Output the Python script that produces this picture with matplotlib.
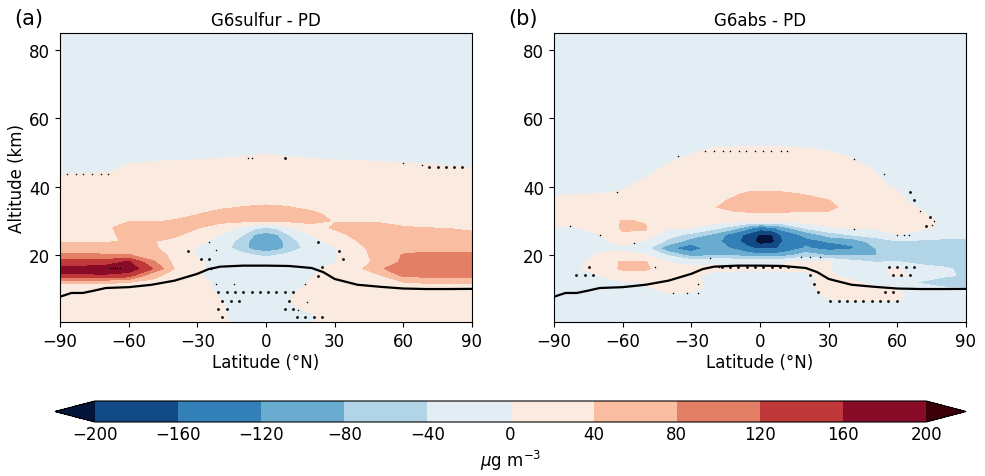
import numpy as np
import matplotlib
matplotlib.use("Agg")
import matplotlib.pyplot as plt
from matplotlib.colors import ListedColormap, BoundaryNorm

levels = [-200, -160, -120, -80, -40, 0, 40, 80, 120, 160, 200]
colors = ['#124a85', '#337fb8', '#6aacd0', '#b1d4e7', '#e3edf4',
          '#faeadf', '#f9bda2', '#e37f65', '#c1383a', '#880c28']
under_color = '#05143a'
over_color = '#3c0008'

lat_a = [-90, -80, -70, -60, -50, -40, -30, -20, -10, -5, 0, 5, 10, 20, 30, 40, 50, 60, 70, 80, 90]
alt_a = [0.4, 3, 6, 9, 12, 14, 16, 18, 20, 22, 24, 26, 28, 30, 32, 34, 36, 40, 45, 50, 60, 85]
diff_a = [
    [25, 25, 25, 25, 25, 25, 25, 10, -15, -15, -15, -15, -15, -5, 15, 25, 25, 25, 25, 25, 25],
    [25, 25, 25, 25, 25, 25, 25, 5, -15, -15, -15, -15, -15, 0, 15, 25, 25, 25, 25, 25, 25],
    [25, 25, 25, 25, 25, 25, 25, 3, -12, -14, -15, -8, 0, 15, 25, 25, 25, 25, 25, 25, 25],
    [25, 25, 25, 25, 25, 25, 15, -5, -15, -15, -15, -10, -5, 15, 25, 25, 25, 25, 25, 25, 25],
    [42, 42, 42, 40, 32, 25, 12, -8, -15, -15, -15, -15, -15, 3, 20, 25, 30, 38, 42, 42, 42],
    [155, 155, 155, 140, 50, 28, 3, -15, -18, -18, -18, -18, -18, -3, 20, 28, 38, 88, 92, 92, 92],
    [170, 175, 180, 185, 125, 40, 8, -15, -20, -20, -20, -20, -20, -8, 15, 30, 75, 105, 110, 110, 110],
    [135, 135, 140, 165, 90, 30, 5, -10, -25, -25, -25, -25, -25, -20, -2, 25, 50, 88, 90, 90, 90],
    [85, 85, 84, 84, 50, 35, -3, -15, -30, -40, -45, -40, -30, -15, -3, 22, 60, 82, 88, 88, 88],
    [58, 58, 56, 55, 45, 28, -3, -22, -60, -100, -112, -100, -62, -22, -2, 28, 60, 68, 70, 70, 70],
    [38, 38, 37, 42, 42, 32, 8, -10, -60, -100, -112, -100, -60, -8, 10, 40, 55, 58, 58, 58, 58],
    [28, 28, 30, 52, 55, 46, 28, 0, -40, -82, -95, -82, -40, 3, 28, 50, 58, 57, 56, 55, 44],
    [25, 25, 32, 58, 55, 50, 42, 22, -8, -30, -45, -30, -8, 25, 45, 50, 52, 42, 40, 38, 36],
    [20, 20, 22, 38, 38, 41, 50, 50, 48, 46, 45, 46, 48, 50, 38, 36, 35, 32, 30, 28, 26],
    [15, 15, 18, 28, 30, 35, 39, 52, 58, 59, 60, 59, 58, 48, 30, 28, 26, 25, 24, 22, 20],
    [15, 15, 16, 22, 24, 26, 30, 35, 41, 43, 45, 43, 41, 32, 25, 24, 23, 22, 21, 20, 19],
    [15, 15, 16, 20, 22, 24, 26, 28, 30, 30, 30, 30, 30, 28, 24, 22, 22, 21, 20, 20, 19],
    [12, 12, 13, 15, 17, 18, 19, 20, 20, 20, 20, 20, 20, 20, 19, 18, 18, 16, 15, 14, 12],
    [-3, -3, -3, 4, 6, 8, 8, 9, 10, 10, 10, 10, 10, 9, 8, 8, 7, 6, 4, 2, 1],
    [-8, -8, -8, -8, -7, -7, -6, -5, -3, -2, -1, -2, -3, -5, -6, -7, -8, -8, -8, -8, -8],
    [-15, -15, -15, -15, -15, -15, -15, -15, -15, -15, -15, -15, -15, -15, -15, -15, -15, -15, -15, -15, -15],
    [-5, -5, -5, -5, -5, -5, -5, -5, -5, -5, -5, -5, -5, -5, -5, -5, -5, -5, -5, -5, -5],
]

lat_b = [-90, -80, -70, -60, -50, -40, -30, -20, -10, -5, 0, 5, 10, 20, 30, 40, 50, 60, 70, 80, 90]
alt_b = [0.4, 4, 6, 8, 10, 12, 14, 16, 18, 20, 22, 24, 26, 28, 30, 32, 34, 36, 38, 40, 45, 50, 55, 85]
diff_b = [
    [-15, -15, -15, -15, -15, -15, -15, -15, -15, -15, -15, -15, -15, -15, -15, -15, -15, -15, -15, -15, -15],
    [-10, -10, -10, -10, -10, -10, -10, -10, -10, -10, -10, -10, -10, -10, -10, -10, -10, -10, -10, -10, -10],
    [-8, -8, -8, -8, -8, -8, -8, -8, -8, -8, -8, -8, -8, -8, -3, -2, -2, -2, -8, -8, -8],
    [-8, -8, -8, -8, -5, -3, -3, -5, -8, -8, -8, -8, -8, -8, 2, 5, 5, 4, -8, -10, -10],
    [-10, -10, -10, -10, -3, 5, 3, -4, -8, -8, -8, -8, -8, -6, 8, 10, 6, 1, -15, -25, -30],
    [-15, -12, -8, -5, 1, 6, 3, -3, -8, -8, -8, -8, -8, -5, 8, 3, -5, -12, -45, -70, -83],
    [-12, -8, 1, 22, 25, 8, 3, -6, -6, -6, -6, -6, -6, -2, 3, -5, -5, 3, -3, -30, -48],
    [-12, -6, 22, 45, 45, 20, 8, 4, 3, 3, 3, 3, 3, 2, 1, -10, -6, 5, -25, -33, -50],
    [-12, -8, 15, 45, 42, -3, -10, -3, -5, -5, -5, -4, -2, 5, 3, -25, -42, -38, -50, -60, -65],
    [-15, -10, 3, 5, 3, -45, -100, -85, -90, -100, -110, -108, -100, -60, -85, -85, -82, -55, -55, -60, -62],
    [-12, -8, -5, -3, -25, -115, -140, -100, -130, -155, -165, -165, -155, -115, -135, -125, -82, -60, -52, -55, -65],
    [-8, -6, -3, 5, -3, -50, -105, -105, -155, -175, -225, -215, -160, -130, -118, -112, -60, -43, -48, -55, -60],
    [-3, -2, 0, 36, 36, -25, -50, -90, -150, -170, -205, -205, -150, -110, -60, -35, -25, 0, -10, -15, -18],
    [-4, -1, 12, 45, 42, 3, 2, -25, -70, -110, -140, -130, -100, -30, -3, 2, 6, 10, 6, -5, -10],
    [8, 12, 20, 42, 38, 20, 15, 15, 12, 8, 5, 6, 8, 15, 17, 18, 17, 20, 12, -5, -15],
    [15, 15, 18, 25, 25, 25, 36, 36, 36, 36, 36, 36, 36, 36, 36, 35, 20, 15, 5, -15, -20],
    [15, 15, 17, 20, 22, 25, 32, 39, 48, 50, 50, 50, 50, 48, 45, 32, 18, 10, -2, -20, -25],
    [8, 13, 14, 16, 20, 24, 28, 34, 45, 50, 50, 50, 50, 47, 41, 25, 15, 5, -8, -25, -30],
    [-3, -2, 0, 2, 10, 16, 22, 28, 38, 43, 44, 44, 43, 38, 28, 20, 10, 2, -15, -25, -30],
    [-6, -5, -4, -2, 5, 14, 18, 22, 28, 30, 30, 30, 30, 27, 22, 15, 5, -2, -18, -25, -30],
    [-12, -10, -10, -8, -4, 3, 10, 14, 18, 18, 18, 18, 18, 18, 16, 9, -1, -12, -18, -20, -20],
    [-20, -20, -20, -18, -12, -5, -1, 4, 5, 5, 5, 5, 5, 4, 1, -4, -12, -18, -20, -20, -20],
    [-10, -10, -10, -10, -10, -10, -10, -10, -10, -10, -10, -10, -10, -10, -10, -10, -10, -10, -10, -10, -10],
    [-5, -5, -5, -5, -5, -5, -5, -5, -5, -5, -5, -5, -5, -5, -5, -5, -5, -5, -5, -5, -5],
]

# tropopause, same curve in both panels
trop_lat = [-90, -85, -80, -75, -70, -60, -50, -40, -30, -25, -20, -10, 0, 10, 20, 25, 30, 40, 50, 60, 70, 80, 90]
trop_alt = [7.8, 8.9, 8.9, 9.6, 10.35, 10.6, 11.3, 12.5, 14.5, 15.9, 16.6, 16.9, 16.9, 16.8, 16.2, 15, 13, 11.3, 10.7, 10.2, 10.05, 10.05, 10.1]

# significance stipples
dots_a_lat = [-20.8, -17.2, -13.6, -10, -6.3, -2.7, 0.9, 4.5, 8.2, 11.8, -19.1, -15.5, -12, 9.9,
              -20.8, -17.2, 8.2, 11.8, -19.1, 13.6, 17.2, 20.9, 24.5,
              -33.9, -28.3, -24.7, 22.9, 31.9, 33.7, 24.6, 22.9,
              71.3, 75, 78.6, 82.2, 85.8, 8.2]
dots_a_alt = [9.1, 9.1, 9.1, 9.1, 9.1, 9.1, 9.1, 9.1, 9.1, 9.1, 6.6, 6.6, 6.6, 6.6,
              4.2, 4.2, 4.2, 4.2, 1.8, 1.8, 1.8, 1.8, 1.8,
              21.3, 18.8, 18.8, 23.8, 21.3, 18.8, 16.5, 14,
              45.8, 45.8, 45.8, 45.8, 45.8, 48.4]
tiny_a_lat = [-87, -83, -80, -76, -72, -69, -8, -6, 60, 68, -22, -14, -24, 17, -25, -22, 18, 14, -68, -67, -66, -65, -64]
tiny_a_alt = [43.7, 43.7, 43.7, 43.7, 43.7, 43.7, 48.4, 48.4, 47, 46.5, 11.5, 11.5, 16, 11.5, 23.8, 21.5, 6.4, 4, 16.2, 16.2, 16.2, 16.2, 16.2]

dots_b_lat = [65.4, 67.1, 74.4, 72.7, 56.4, 60, 63.6, 67.1, 58.2, 61.8, 65.4, 54.6, 58.2,
              30.7, 34.3, 38, 41.6, 45.2, 48.9, 52.5, 56.1, 59.8, 25.3, 23.6, 21.7,
              -16.7, -13, -9.4, -5.8, -2.2, 1.5, 5.1, 8.7, 12.4,
              -74.9, -80.2, -76.6, -73]
dots_b_alt = [38.4, 36, 31, 28.6, 16.4, 16.4, 16.4, 16.4, 14.1, 14.1, 14.1, 9.1, 9.1,
              6.6, 6.6, 6.6, 6.6, 6.6, 6.6, 6.6, 6.6, 6.6, 9.1, 11.5, 14.1,
              16.5, 16.5, 16.5, 16.5, 16.5, 16.5, 16.5, 16.5, 16.5,
              16.4, 14.1, 14.1, 14.1]
tiny_b_lat = [-24, -20, -16, -13, -9, -6, -2, 1.5, 5, 9, 12, -36, 41, 54, -62.6, -83, -70, -55, -38, -32, -27, -27,
              60, 63, 65, 41, 18, 22, 26, -18, -22, -46, 75, 70, 76]
tiny_b_alt = [50.5, 50.5, 50.5, 50.5, 50.5, 50.5, 50.5, 50.5, 50.5, 50.5, 50.5, 49, 48, 43.7, 38.4, 28.6, 26, 23.5, 9, 9, 9, 11.5,
              26, 26, 26, 27.5, 19.3, 19.3, 19.3, 16.4, 19, 16.4, 28.8, 33, 30]

titles = ['G6sulfur - PD', 'G6abs - PD']
panels = ['(a)', '(b)']

cmap = ListedColormap(colors)
cmap.set_under(under_color)
cmap.set_over(over_color)
norm = BoundaryNorm(levels, cmap.N)

fig = plt.figure(figsize=(9.85, 4.77), dpi=100)
W, H = 985.0, 477.0
ax_a = fig.add_axes([60 / W, 1 - 323 / H, 412 / W, 289 / H])
ax_b = fig.add_axes([554 / W, 1 - 323 / H, 412 / W, 289 / H])

data = [
    (ax_a, lat_a, alt_a, diff_a, dots_a_lat, dots_a_alt, tiny_a_lat, tiny_a_alt),
    (ax_b, lat_b, alt_b, diff_b, dots_b_lat, dots_b_alt, tiny_b_lat, tiny_b_alt),
]
for i, (ax, lat, alt, diff, dlat, dalt, tlat, talt) in enumerate(data):
    cf = ax.contourf(lat, alt, np.array(diff), levels=levels, cmap=cmap, norm=norm, extend='both')
    ax.scatter(dlat, dalt, s=4, c='k', linewidths=0, zorder=3)
    ax.scatter(tlat, talt, s=1.2, c='k', linewidths=0, zorder=3)
    ax.plot(trop_lat, trop_alt, color='k', lw=1.6, zorder=4)
    ax.set_xlim(-90, 90)
    ax.set_ylim(0.4, 85)
    ax.set_xticks([-90, -60, -30, 0, 30, 60, 90])
    ax.set_yticks([20, 40, 60, 80])
    ax.tick_params(labelsize=12)
    ax.set_xlabel('Latitude (°N)', fontsize=12, labelpad=2)
    ax.set_title(titles[i], fontsize=12, pad=6)
ax_a.set_ylabel('Altitude (km)', fontsize=12, labelpad=2)

fig.text(14 / W, 1 - 25 / H, panels[0], fontsize=15)
fig.text(508 / W, 1 - 25 / H, panels[1], fontsize=15)

cax = fig.add_axes([55 / W, 1 - 423 / H, 911 / W, 21 / H])
cb = fig.colorbar(cf, cax=cax, orientation='horizontal', ticks=levels, extendfrac=0.048)
cb.ax.tick_params(length=0, labelsize=12, pad=2)
cb.set_label(r'$\mu$g m$^{-3}$', fontsize=12, labelpad=4)

fig.savefig('out.png', dpi=100)
